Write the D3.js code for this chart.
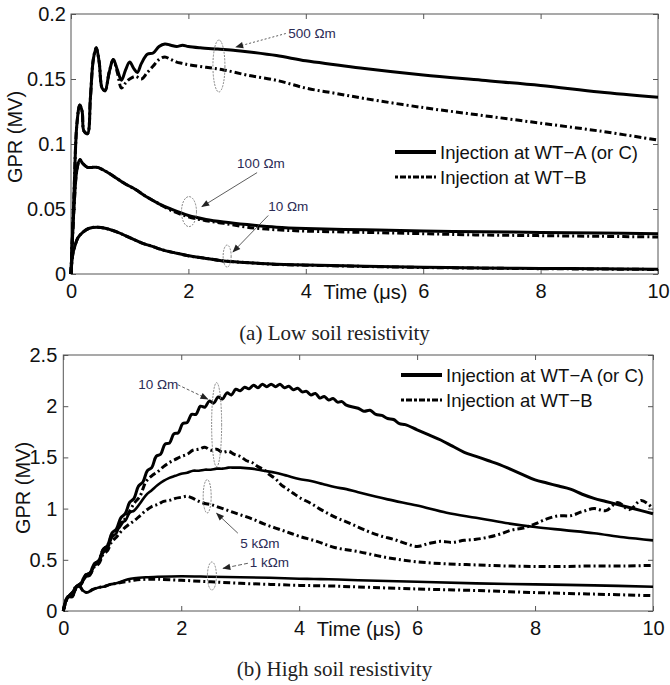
<!DOCTYPE html>
<html><head><meta charset="utf-8">
<script src="https://cdn.jsdelivr.net/npm/d3@7"></script>
<style>body{margin:0;background:#fff}</style>
</head><body><svg id="c" width="670" height="685"></svg>
<script>
// ---------------- DATA ----------------
const xTicks = [0, 2, 4, 6, 8, 10];
const yTicksLow = [0, 0.05, 0.1, 0.15, 0.2];
const yTicksHigh = [0, 0.5, 1, 1.5, 2, 2.5];
const legendLabels = ["Injection at WT\u2212A (or C)", "Injection at WT\u2212B"];
const xLabel = "Time (\u03bcs)";
const yLabel = "GPR (MV)";
const captionLow = "(a) Low soil resistivity";
const captionHigh = "(b) High soil resistivity";

// (a) Low soil resistivity  [time µs, GPR MV]
const low500A = [[0,0],[0.05,0.06],[0.1,0.115],[0.15,0.130],[0.19,0.125],[0.22,0.110],[0.28,0.108],[0.33,0.135],[0.38,0.165],[0.43,0.174],[0.48,0.163],[0.53,0.143],[0.58,0.141],[0.65,0.155],[0.72,0.165],[0.79,0.157],[0.86,0.149],[0.93,0.157],[1.0,0.163],[1.07,0.158],[1.13,0.155],[1.2,0.162],[1.3,0.169],[1.4,0.170],[1.5,0.175],[1.6,0.177],[1.7,0.176],[1.8,0.175],[1.9,0.176],[2.0,0.175],[2.2,0.174],[2.5,0.173],[2.8,0.172],[3.0,0.171],[3.5,0.168],[4.0,0.164],[4.5,0.161],[5,0.158],[6,0.153],[7,0.149],[8,0.145],[9,0.140],[10,0.136]];
const low500B = [[0,0],[0.05,0.06],[0.1,0.115],[0.15,0.130],[0.19,0.125],[0.22,0.110],[0.28,0.108],[0.33,0.135],[0.38,0.165],[0.43,0.174],[0.48,0.163],[0.53,0.143],[0.58,0.141],[0.65,0.155],[0.72,0.165],[0.79,0.155],[0.86,0.143],[0.93,0.147],[1.0,0.150],[1.1,0.152],[1.2,0.150],[1.3,0.155],[1.4,0.160],[1.5,0.165],[1.6,0.167],[1.7,0.165],[1.8,0.163],[1.9,0.162],[2.0,0.161],[2.3,0.159],[2.6,0.157],[3.0,0.153],[3.5,0.149],[4.0,0.143],[4.5,0.139],[5,0.135],[6,0.128],[7,0.122],[8,0.116],[9,0.110],[10,0.103]];
const low100A = [[0,0],[0.05,0.05],[0.1,0.08],[0.15,0.088],[0.2,0.085],[0.28,0.082],[0.35,0.082],[0.45,0.082],[0.55,0.080],[0.7,0.076],[0.9,0.070],[1.1,0.065],[1.3,0.059],[1.5,0.054],[1.7,0.050],[2.0,0.045],[2.3,0.042],[2.6,0.040],[3,0.038],[3.5,0.036],[4,0.035],[5,0.034],[6,0.033],[7,0.0325],[8,0.032],[9,0.0315],[10,0.031]];
const low100B = [[0,0],[0.05,0.05],[0.1,0.08],[0.15,0.088],[0.2,0.085],[0.28,0.082],[0.35,0.082],[0.45,0.082],[0.55,0.080],[0.7,0.076],[0.9,0.070],[1.1,0.065],[1.3,0.059],[1.5,0.054],[1.7,0.049],[2.0,0.044],[2.3,0.041],[2.6,0.039],[3,0.036],[3.5,0.034],[4,0.033],[5,0.032],[6,0.031],[7,0.030],[8,0.0295],[9,0.029],[10,0.0285]];
const low10A = [[0,0],[0.03,0.015],[0.07,0.022],[0.12,0.028],[0.2,0.032],[0.3,0.035],[0.45,0.036],[0.6,0.035],[0.8,0.032],[1.0,0.028],[1.2,0.024],[1.4,0.021],[1.6,0.018],[1.8,0.016],[2.0,0.014],[2.3,0.012],[2.6,0.010],[3,0.0088],[3.5,0.0075],[4,0.007],[5,0.006],[6,0.0052],[7,0.0047],[8,0.0043],[9,0.004],[10,0.0037]];
const low10B = [[0,0],[0.03,0.015],[0.07,0.022],[0.12,0.028],[0.2,0.032],[0.3,0.035],[0.45,0.036],[0.6,0.035],[0.8,0.032],[1.0,0.028],[1.2,0.024],[1.4,0.021],[1.6,0.018],[1.8,0.016],[2.0,0.014],[2.3,0.012],[2.6,0.010],[3,0.0087],[3.5,0.0074],[4,0.0068],[5,0.0058],[6,0.005],[7,0.0045],[8,0.0041],[9,0.0038],[10,0.0035]];

// (b) High soil resistivity
const high10A = [[0,0],[0.075,0.14],[0.15,0.14],[0.225,0.24],[0.3,0.27],[0.375,0.35],[0.45,0.37],[0.525,0.46],[0.6,0.49],[0.675,0.60],[0.75,0.64],[0.825,0.76],[0.9,0.80],[0.975,0.91],[1.05,0.95],[1.125,1.06],[1.2,1.10],[1.275,1.22],[1.35,1.26],[1.425,1.37],[1.5,1.40],[1.575,1.51],[1.65,1.53],[1.725,1.63],[1.8,1.64],[1.875,1.73],[1.95,1.74],[2.025,1.83],[2.1,1.84],[2.175,1.92],[2.25,1.92],[2.325,2.0],[2.4,1.99],[2.475,2.05],[2.55,2.03],[2.625,2.09],[2.7,2.07],[2.775,2.13],[2.85,2.11],[2.925,2.165],[3.0,2.15],[3.075,2.185],[3.15,2.17],[3.225,2.205],[3.3,2.18],[3.375,2.215],[3.45,2.19],[3.525,2.215],[3.6,2.19],[3.675,2.215],[3.75,2.18],[3.825,2.195],[3.9,2.16],[3.975,2.175],[4.05,2.14],[4.125,2.145],[4.2,2.11],[4.275,2.125],[4.35,2.08],[4.425,2.095],[4.5,2.06],[4.575,2.075],[4.65,2.04],[4.725,2.045],[4.8,2.01],[5.0,1.98],[5.1,1.95],[5.2,1.96],[5.3,1.92],[5.4,1.91],[5.5,1.88],[5.6,1.87],[5.7,1.83],[5.8,1.82],[6.0,1.77],[6.2,1.72],[6.4,1.67],[6.6,1.61],[6.8,1.55],[7.0,1.51],[7.2,1.47],[7.4,1.43],[7.6,1.38],[7.8,1.33],[8.0,1.28],[8.2,1.25],[8.4,1.22],[8.6,1.19],[8.8,1.14],[9.0,1.10],[9.2,1.07],[9.4,1.04],[9.6,1.01],[9.8,0.98],[10,0.95]];
const high10B = [[0,0],[0.075,0.14],[0.15,0.14],[0.225,0.24],[0.3,0.27],[0.375,0.35],[0.45,0.37],[0.525,0.46],[0.6,0.49],[0.675,0.60],[0.75,0.64],[0.825,0.74],[0.9,0.78],[1.0,0.86],[1.1,0.95],[1.2,1.05],[1.3,1.12],[1.4,1.26],[1.5,1.32],[1.6,1.36],[1.7,1.41],[1.8,1.45],[1.9,1.48],[2.0,1.51],[2.1,1.53],[2.2,1.57],[2.3,1.58],[2.4,1.60],[2.5,1.57],[2.6,1.58],[2.7,1.55],[2.8,1.56],[2.9,1.53],[3.0,1.51],[3.1,1.47],[3.2,1.45],[3.3,1.41],[3.4,1.38],[3.5,1.33],[3.6,1.29],[3.7,1.23],[3.8,1.19],[3.9,1.15],[4.0,1.11],[4.2,1.05],[4.4,0.98],[4.6,0.92],[4.8,0.87],[5.0,0.82],[5.2,0.77],[5.4,0.73],[5.6,0.70],[5.8,0.66],[6.0,0.63],[6.2,0.66],[6.4,0.68],[6.6,0.67],[6.8,0.69],[7.0,0.70],[7.2,0.72],[7.4,0.75],[7.6,0.79],[7.8,0.81],[8.0,0.85],[8.2,0.90],[8.4,0.93],[8.6,0.93],[8.8,0.97],[9.0,1.0],[9.2,0.98],[9.4,1.06],[9.6,0.99],[9.8,1.08],[10,1.0]];
const high5kA = [[0,0],[0.075,0.13],[0.15,0.15],[0.225,0.23],[0.3,0.26],[0.375,0.33],[0.45,0.35],[0.525,0.44],[0.6,0.47],[0.675,0.57],[0.75,0.61],[0.825,0.72],[0.9,0.76],[0.975,0.86],[1.05,0.88],[1.125,0.96],[1.2,0.98],[1.3,1.05],[1.4,1.13],[1.5,1.18],[1.6,1.23],[1.7,1.27],[1.8,1.30],[1.9,1.32],[2.0,1.34],[2.1,1.35],[2.2,1.37],[2.3,1.37],[2.4,1.38],[2.5,1.38],[2.6,1.39],[2.7,1.39],[2.8,1.40],[2.9,1.40],[3.0,1.40],[3.2,1.39],[3.4,1.37],[3.6,1.35],[3.8,1.32],[4.0,1.29],[4.2,1.27],[4.4,1.24],[4.6,1.21],[4.8,1.19],[5.0,1.16],[5.5,1.09],[6.0,1.03],[6.5,0.96],[7.0,0.91],[7.5,0.86],[8.0,0.82],[8.5,0.79],[9.0,0.76],[9.5,0.72],[10,0.69]];
const high5kB = [[0,0],[0.075,0.13],[0.15,0.15],[0.225,0.23],[0.3,0.26],[0.375,0.33],[0.45,0.35],[0.525,0.43],[0.6,0.46],[0.675,0.55],[0.75,0.59],[0.825,0.68],[0.9,0.72],[1.0,0.79],[1.1,0.84],[1.2,0.88],[1.3,0.93],[1.4,0.98],[1.5,1.02],[1.6,1.04],[1.7,1.07],[1.8,1.08],[1.9,1.10],[2.0,1.11],[2.1,1.12],[2.2,1.10],[2.3,1.07],[2.4,1.05],[2.5,1.04],[2.6,1.02],[2.8,0.98],[3.0,0.94],[3.2,0.90],[3.4,0.85],[3.6,0.81],[3.8,0.77],[4.0,0.73],[4.3,0.68],[4.6,0.62],[5.0,0.58],[5.5,0.52],[6.0,0.48],[6.5,0.46],[7.0,0.45],[7.5,0.44],[8.0,0.435],[8.5,0.435],[9.0,0.44],[9.5,0.44],[10,0.445]];
const high1kA = [[0,0],[0.05,0.1],[0.1,0.15],[0.15,0.18],[0.22,0.24],[0.28,0.24],[0.33,0.2],[0.4,0.18],[0.5,0.21],[0.6,0.23],[0.7,0.24],[0.8,0.26],[0.9,0.27],[1.0,0.29],[1.1,0.31],[1.2,0.32],[1.4,0.33],[1.6,0.335],[2.0,0.34],[2.5,0.335],[3.0,0.33],[3.5,0.325],[4.0,0.315],[4.5,0.31],[5,0.30],[6,0.285],[7,0.27],[8,0.26],[9,0.25],[10,0.237]];
const high1kB = [[0,0],[0.05,0.1],[0.1,0.15],[0.15,0.18],[0.22,0.24],[0.28,0.24],[0.33,0.2],[0.4,0.18],[0.5,0.21],[0.6,0.23],[0.7,0.24],[0.8,0.26],[0.9,0.27],[1.0,0.28],[1.2,0.30],[1.4,0.31],[1.6,0.31],[2.0,0.30],[2.5,0.285],[3.0,0.27],[3.5,0.26],[4.0,0.25],[4.5,0.245],[5,0.235],[6,0.215],[7,0.2],[8,0.18],[9,0.165],[10,0.15]];

const labelsLow = ["500 \u03a9m", "100 \u03a9m", "10 \u03a9m"];
const labelsHigh = ["10 \u03a9m", "5 k\u03a9m", "1 k\u03a9m"];

// ---------------- LAYOUT ----------------
const SANS = "'Liberation Sans', Arial, Helvetica, sans-serif";
const SERIF = "'Liberation Serif', 'Times New Roman', serif";
const DASHDOT = "7,3,2,3";

const svg = d3.select("#c");
svg.append("rect").attr("width", 670).attr("height", 685).attr("fill", "#fff");
const mk = svg.append("defs").append("marker").attr("id", "ah")
  .attr("viewBox", "0 0 10 10").attr("refX", 9).attr("refY", 5)
  .attr("markerWidth", 9).attr("markerHeight", 8).attr("markerUnits", "userSpaceOnUse")
  .attr("orient", "auto");
mk.append("path").attr("d", "M0,1 L10,5 L0,9 z").attr("fill", "#222");

function panel(o) {
  const x = d3.scaleLinear().domain([0, 10]).range([o.x0, o.x1]);
  const y = d3.scaleLinear().domain(o.yDomain).range([o.y0, o.y1]);
  const g = svg.append("g");

  // frame
  g.append("rect").attr("x", o.x0).attr("y", o.y1).attr("width", o.x1 - o.x0).attr("height", o.y0 - o.y1)
    .attr("fill", "none").attr("stroke", "#555").attr("stroke-width", 1);

  const styleAxis = sel => {
    sel.select(".domain").remove();
    sel.selectAll(".tick line").attr("stroke", "#555");
    sel.attr("font-size", 20).attr("font-family", SANS);
    sel.selectAll("text").attr("fill", "#111");
  };
  g.append("g").attr("transform", `translate(0,${o.y0})`)
    .call(d3.axisBottom(x).tickValues(xTicks).tickSize(-5).tickSizeOuter(0).tickPadding(10).tickFormat(d => String(d)))
    .call(styleAxis);
  g.append("g").attr("transform", `translate(0,${o.y1})`)
    .call(d3.axisTop(x).tickValues(xTicks).tickSize(-5).tickSizeOuter(0).tickFormat(""))
    .call(styleAxis);
  g.append("g").attr("transform", `translate(${o.x0},0)`)
    .call(d3.axisLeft(y).tickValues(o.yTicks).tickSize(-5).tickSizeOuter(0).tickPadding(o.yPad).tickFormat(d => String(d)))
    .call(styleAxis);
  g.append("g").attr("transform", `translate(${o.x1},0)`)
    .call(d3.axisRight(y).tickValues(o.yTicks).tickSize(-5).tickSizeOuter(0).tickFormat(""))
    .call(styleAxis);

  // axis labels
  g.append("text").attr("x", x(4.3)).attr("y", o.y0 + 25).attr("font-family", SANS).attr("font-size", 20)
    .attr("fill", "#111").text(xLabel);
  g.append("text").attr("transform", `translate(${o.ylabX},${o.ylabY}) rotate(-90)`).attr("text-anchor", "middle")
    .attr("font-family", SANS).attr("font-size", 20).attr("fill", "#111").text(yLabel);

  // curves
  const line = d3.line().x(d => x(d[0])).y(d => y(d[1])).curve(d3.curveCatmullRom.alpha(0.5));
  o.series.forEach(s => {
    g.append("path").attr("d", line(s.data)).attr("fill", "none").attr("stroke", "#000")
      .attr("stroke-width", s.w).attr("stroke-dasharray", s.dash ? DASHDOT : null)
      .attr("stroke-linejoin", "round");
  });

  // legend
  legendLabels.forEach((lab, i) => {
    const ly = o.legY + i * 25;
    g.append("line").attr("x1", o.legX).attr("x2", o.legX + 41).attr("y1", ly).attr("y2", ly)
      .attr("stroke", "#000").attr("stroke-width", i === 0 ? 4 : 3).attr("stroke-dasharray", i === 0 ? null : "3,2,6,2");
    g.append("text").attr("x", o.legX + 45).attr("y", ly + 7).attr("font-family", SANS).attr("font-size", 18.5)
      .attr("fill", "#111").text(lab);
  });

  // annotations
  o.annots.forEach(a => {
    g.append("ellipse").attr("cx", x(a.ell[0])).attr("cy", y(a.ell[1])).attr("rx", a.ell[2]).attr("ry", a.ell[3])
      .attr("fill", "none").attr("stroke", "#777").attr("stroke-width", 0.9).attr("stroke-dasharray", "2,1.2");
    g.append("line").attr("x1", x(a.from[0])).attr("y1", y(a.from[1])).attr("x2", x(a.to[0])).attr("y2", y(a.to[1]))
      .attr("stroke", "#333").attr("stroke-width", 0.8).attr("stroke-dasharray", a.dash)
      .attr("marker-end", "url(#ah)");
    g.append("text").attr("x", x(a.t[0])).attr("y", y(a.t[1])).attr("font-family", SANS).attr("font-size", 13.5)
      .attr("fill", "#2b2b55").text(a.label);
  });

  // caption
  svg.append("text").attr("x", 334.5).attr("y", o.capY).attr("text-anchor", "middle")
    .attr("font-family", SERIF).attr("font-size", 21).attr("fill", "#222").text(o.caption);
}

panel({
  x0: 71, x1: 658, y0: 274, y1: 14, yDomain: [0, 0.2], yTicks: yTicksLow, yPad: 5,
  ylabX: 22, ylabY: 137, legX: 395, legY: 152, capY: 340, caption: captionLow,
  series: [
    {data: low500B, dash: true, w: 3}, {data: low100B, dash: true, w: 3}, {data: low10B, dash: true, w: 3},
    {data: low500A, w: 3}, {data: low100A, w: 3}, {data: low10A, w: 3}
  ],
  annots: [
    {label: labelsLow[0], t: [3.7, 0.1815], from: [3.66, 0.185], to: [2.81, 0.1746], dash: "2,2", ell: [2.52, 0.160, 6, 26]},
    {label: labelsLow[1], t: [2.83, 0.0815], from: [3.17, 0.078], to: [2.23, 0.0518], dash: null, ell: [2.01, 0.048, 7.5, 15]},
    {label: labelsLow[2], t: [3.36, 0.0485], from: [3.36, 0.045], to: [2.76, 0.017], dash: null, ell: [2.66, 0.0138, 4, 11]}
  ]
});

panel({
  x0: 63.3, x1: 653, y0: 611, y1: 355, yDomain: [0, 2.5], yTicks: yTicksHigh, yPad: 6,
  ylabX: 30, ylabY: 488, legX: 401, legY: 375, capY: 676, caption: captionHigh,
  series: [
    {data: high10B, dash: true, w: 3}, {data: high5kB, dash: true, w: 3}, {data: high1kB, dash: true, w: 3},
    {data: high10A, w: 3}, {data: high5kA, w: 2.6}, {data: high1kA, w: 2.6}
  ],
  annots: [
    {label: labelsHigh[0], t: [1.27, 2.17], from: [1.94, 2.21], to: [2.45, 2.07], dash: "3,2", ell: [2.6, 1.82, 5, 42]},
    {label: labelsHigh[1], t: [3.0, 0.615], from: [2.96, 0.76], to: [2.6, 0.954], dash: null, ell: [2.44, 1.12, 4, 16.7]},
    {label: labelsHigh[2], t: [3.16, 0.43], from: [3.13, 0.466], to: [2.71, 0.417], dash: "4,2", ell: [2.52, 0.342, 4.5, 14]}
  ]
});
</script>
</body></html>
